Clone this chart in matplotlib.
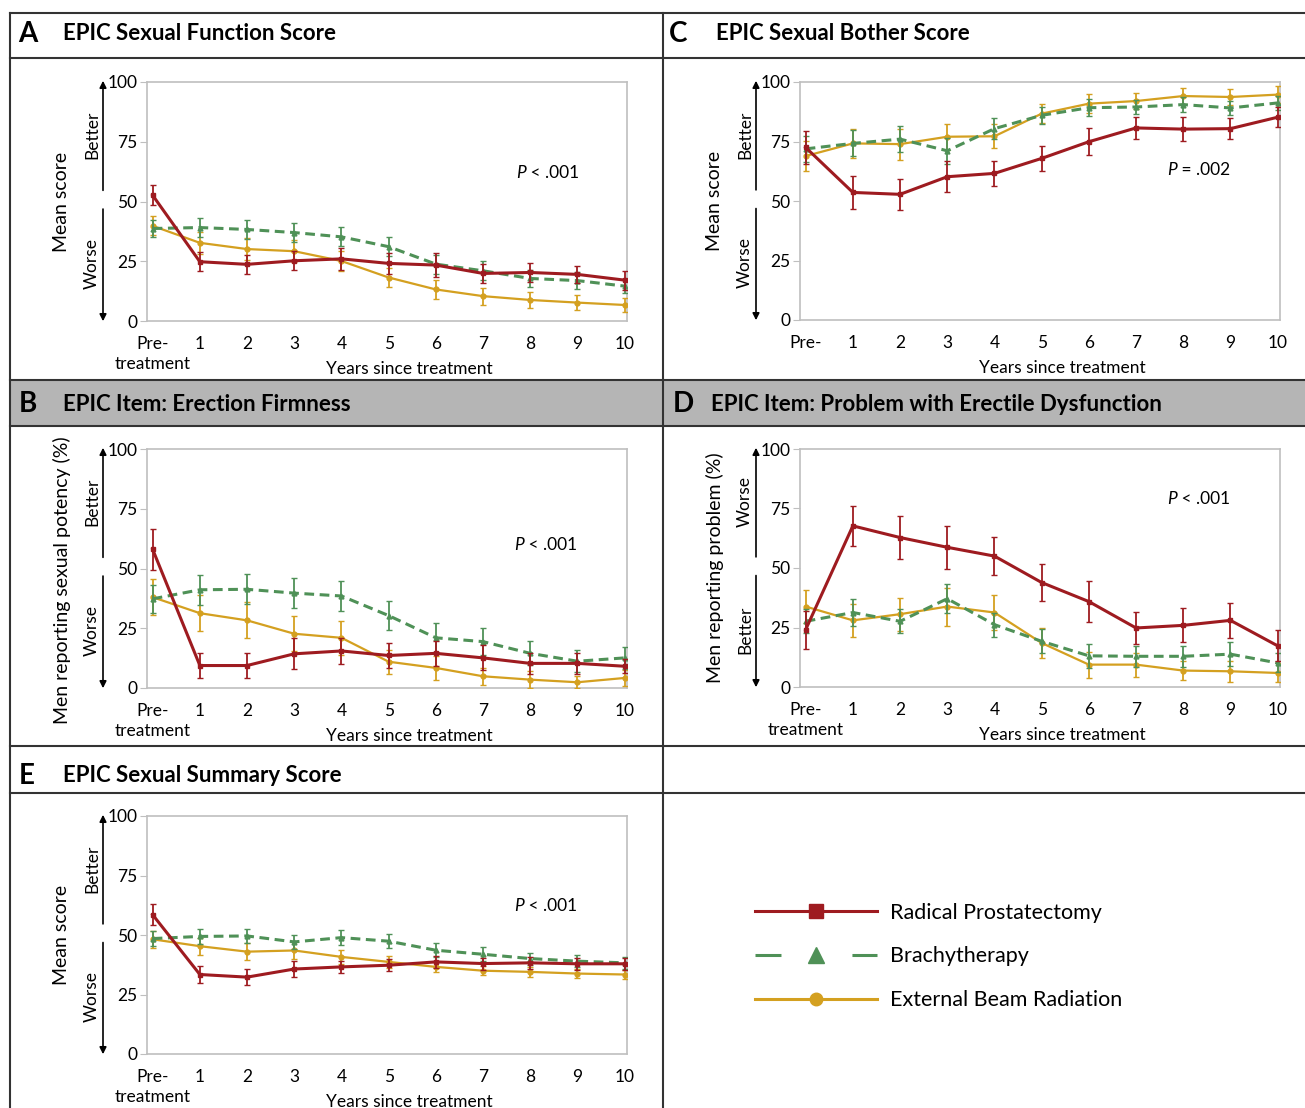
import numpy as np
import matplotlib
matplotlib.use('Agg')
import matplotlib.pyplot as plt
from matplotlib.lines import Line2D
from matplotlib.patches import Rectangle, FancyArrowPatch

plt.rcParams['font.family'] = ['Lato', 'DejaVu Sans']
plt.rcParams['lines.scale_dashes'] = False

W, H = 1305, 1108
RED = '#9E1B20'
GREEN = '#4F9157'
GOLD = '#D4A020'

years = np.arange(11)
xlabels = ['Pre-', '1', '2', '3', '4', '5', '6', '7', '8', '9', '10']
series = ['Radical Prostatectomy', 'Brachytherapy', 'External Beam Radiation']

# A: EPIC sexual function score
a_rp = [52.6, 24.8, 23.7, 25.2, 26.0, 24.1, 23.4, 19.9, 20.3, 19.5, 17.1]
a_rp_err = [4.2, 4.0, 4.0, 4.0, 4.5, 4.5, 5.0, 4.0, 4.0, 3.5, 4.0]
a_br = [38.7, 39.1, 38.3, 37.0, 35.2, 31.1, 23.8, 21.0, 17.8, 16.9, 14.6]
a_br_err = [3.5, 4.0, 4.0, 4.0, 4.0, 4.0, 4.0, 4.0, 3.5, 3.5, 3.0]
a_eb = [39.8, 32.7, 30.1, 29.2, 25.1, 18.2, 13.2, 10.4, 8.8, 7.7, 6.7]
a_eb_err = [4.0, 4.5, 4.5, 4.5, 4.0, 4.0, 4.0, 3.5, 3.5, 3.0, 3.0]

# C: EPIC sexual bother score
c_rp = [72.5, 53.6, 52.8, 60.2, 61.6, 67.9, 74.9, 80.7, 80.2, 80.4, 85.2]
c_rp_err = [7.0, 6.8, 6.6, 6.4, 5.2, 5.4, 5.6, 4.5, 4.9, 4.5, 4.3]
c_br = [71.9, 74.2, 76.0, 71.1, 80.4, 86.0, 89.2, 89.5, 90.5, 89.1, 91.2]
c_br_err = [5.5, 5.5, 5.5, 5.5, 4.5, 3.5, 3.5, 3.0, 3.0, 3.0, 3.0]
c_eb = [68.9, 74.2, 73.9, 77.0, 77.2, 86.7, 90.9, 92.0, 94.1, 93.7, 94.7]
c_eb_err = [6.5, 6.0, 6.5, 5.5, 5.0, 4.0, 4.0, 3.5, 3.5, 3.5, 3.5]

# B: erection firmness (% potent)
b_rp = [58.0, 9.4, 9.4, 14.3, 15.5, 13.6, 14.5, 12.6, 10.3, 10.3, 9.1]
b_rp_err = [8.7, 5.2, 5.2, 6.5, 5.4, 5.4, 5.2, 5.2, 4.5, 4.5, 3.0]
b_br = [37.3, 41.1, 41.3, 39.7, 38.5, 30.3, 21.0, 19.4, 14.5, 11.2, 12.6]
b_br_err = [6.0, 6.3, 6.3, 6.3, 6.3, 6.0, 6.0, 5.5, 5.0, 4.5, 4.5]
b_eb = [38.0, 31.3, 28.3, 22.7, 21.0, 11.0, 8.4, 4.9, 3.5, 2.4, 4.2]
b_eb_err = [7.5, 7.5, 7.5, 7.3, 7.0, 5.0, 5.0, 3.5, 3.5, 2.5, 3.5]

# D: problem with erectile dysfunction (%)
d_rp = [24.1, 67.7, 62.8, 58.7, 55.0, 43.9, 35.9, 24.8, 25.9, 28.0, 17.3]
d_rp_err = [8.0, 8.5, 9.0, 9.0, 8.0, 7.7, 8.6, 6.7, 7.2, 7.4, 6.5]
d_br = [27.6, 31.3, 27.6, 37.1, 26.2, 19.2, 13.1, 12.9, 12.9, 13.8, 10.1]
d_br_err = [5.0, 5.5, 5.0, 6.0, 5.0, 5.0, 5.0, 4.5, 4.5, 5.0, 4.0]
d_eb = [33.8, 28.0, 30.6, 33.8, 31.3, 18.5, 9.4, 9.4, 6.9, 6.6, 5.9]
d_eb_err = [7.0, 7.0, 7.0, 8.0, 7.5, 6.5, 5.5, 5.0, 4.0, 4.5, 4.0]

# E: EPIC sexual summary score
e_rp = [58.5, 33.4, 32.3, 35.7, 36.6, 37.3, 38.7, 38.0, 38.3, 37.9, 37.9]
e_rp_err = [4.5, 3.5, 3.5, 3.5, 2.5, 2.5, 2.5, 2.5, 2.5, 2.5, 2.5]
e_br = [48.5, 49.4, 49.6, 47.1, 48.9, 47.4, 43.6, 41.9, 40.1, 39.0, 38.3]
e_br_err = [3.0, 3.0, 3.0, 3.0, 3.0, 3.0, 3.0, 3.0, 2.5, 2.5, 2.5]
e_eb = [48.2, 45.3, 43.0, 43.5, 40.8, 38.7, 36.6, 35.0, 34.5, 33.8, 33.4]
e_eb_err = [3.5, 3.5, 3.5, 3.5, 3.0, 2.5, 2.0, 2.0, 2.0, 2.0, 2.0]


def fx(x):
    return x / W


def fy(y):
    return 1 - y / H


fig = plt.figure(figsize=(W / 100, H / 100), dpi=100)

# frame lines and gray header band
fig.add_artist(Rectangle((fx(10), fy(426)), fx(1295), 46 / H, transform=fig.transFigure,
                         facecolor='#B5B5B5', edgecolor='none', zorder=0))
for yy in [13, 58, 380, 426, 746, 793]:
    fig.add_artist(Line2D([fx(10), 1], [fy(yy), fy(yy)], color='#333333', lw=1.5))
for xx in [10, 663]:
    fig.add_artist(Line2D([fx(xx), fx(xx)], [fy(13), 0], color='#333333', lw=1.5))

headers = [('A', 'EPIC Sexual Function Score', 28, 63, 34),
           ('C', 'EPIC Sexual Bother Score', 678, 716, 34),
           ('B', 'EPIC Item: Erection Firmness', 28, 63, 404),
           ('D', 'EPIC Item: Problem with Erectile Dysfunction', 683, 711, 404),
           ('E', 'EPIC Sexual Summary Score', 27, 63, 776)]
for let, title, lx, tx, ty in headers:
    fig.text(fx(lx), fy(ty), let, fontsize=20, fontweight='bold', ha='center', va='center')
    fig.text(fx(tx), fy(ty), title, fontsize=16, fontweight='bold', ha='left', va='center')


def panel(left, top, bottom, rp, rp_e, br, br_e, eb, eb_e, ylab, top_word, bot_word,
          ptext, ppos, treatment=True, ylab_pos=0.5):
    ax = fig.add_axes([fx(left), fy(bottom), 480 / W, (bottom - top) / H])
    ax.errorbar(years, eb, yerr=eb_e, color=GOLD, lw=1.6, marker='o', ms=3.5,
                elinewidth=1.3, capsize=2, ecolor=GOLD, zorder=3)
    ax.errorbar(years, br, yerr=br_e, color=GREEN, lw=2.2, marker='^', ms=3.5,
                elinewidth=1.3, capsize=2, ecolor=GREEN, dashes=(7, 4), zorder=4)
    ax.errorbar(years, rp, yerr=rp_e, color=RED, lw=2.2, marker='s', ms=3.5,
                elinewidth=1.3, capsize=2, ecolor=RED, zorder=5)
    ax.set_xlim(-0.12, 10.05)
    ax.set_ylim(0, 100)
    ax.set_yticks([0, 25, 50, 75, 100])
    ax.set_xticks(years)
    ax.set_xticklabels(xlabels)
    ax.tick_params(axis='x', length=0, pad=11, labelsize=12.5)
    ax.tick_params(axis='y', length=5, color='#BFBFBF', pad=2, labelsize=12.5)
    for s in ax.spines.values():
        s.set_color('#BFBFBF')
        s.set_linewidth(1.2)
    ax.set_xlabel('Years since treatment', fontsize=12.5, labelpad=6, x=0.546)
    if treatment:
        ax.text(0, -0.182, 'treatment', transform=ax.get_xaxis_transform(),
                ha='center', va='center', fontsize=12.5)
    ax.text(ppos[0], ppos[1], ' < .001' if ptext == '<' else ' = .002',
            transform=ax.transAxes, fontsize=12.5, ha='left', va='center')
    ax.text(ppos[0], ppos[1], 'P', transform=ax.transAxes, fontsize=12.5,
            style='italic', ha='right', va='center')
    # axis direction arrows
    ax_x = left - 44
    h = bottom - top
    fig.add_artist(FancyArrowPatch(
        (fx(ax_x), fy(top + 0.465 * h)), (fx(ax_x), fy(top - 4)),
        transform=fig.transFigure, arrowstyle='-|>', mutation_scale=10, color='black', lw=1.2))
    fig.add_artist(FancyArrowPatch(
        (fx(ax_x), fy(top + 0.52 * h)), (fx(ax_x), fy(bottom + 3)),
        transform=fig.transFigure, arrowstyle='-|>', mutation_scale=10, color='black', lw=1.2))
    fig.text(fx(ax_x - 11), fy(top + 0.22 * h), top_word, rotation=90, fontsize=12.5,
             ha='center', va='center')
    fig.text(fx(ax_x - 11), fy(top + 0.76 * h), bot_word, rotation=90, fontsize=12.5,
             ha='center', va='center')
    fig.text(fx(ax_x - 41), fy(top + ylab_pos * h), ylab, rotation=90, fontsize=14,
             ha='center', va='center')
    return ax


panel(147, 82, 321, a_rp, a_rp_err, a_br, a_br_err, a_eb, a_eb_err,
      'Mean score', 'Better', 'Worse', '<', (0.79, 0.62))
panel(800, 82, 320, c_rp, c_rp_err, c_br, c_br_err, c_eb, c_eb_err,
      'Mean score', 'Better', 'Worse', '=', (0.785, 0.63), treatment=False)
panel(147, 449, 688, b_rp, b_rp_err, b_br, b_br_err, b_eb, b_eb_err,
      'Men reporting sexual potency (%)', 'Better', 'Worse', '<', (0.785, 0.60),
      ylab_pos=0.55)
panel(800, 449, 687, d_rp, d_rp_err, d_br, d_br_err, d_eb, d_eb_err,
      'Men reporting problem (%)', 'Worse', 'Better', '<', (0.785, 0.79))
panel(147, 816, 1054, e_rp, e_rp_err, e_br, e_br_err, e_eb, e_eb_err,
      'Mean score', 'Better', 'Worse', '<', (0.785, 0.62))

handles = [Line2D([], [], color=RED, lw=2.2, marker='s', ms=10),
           Line2D([], [], color=GREEN, lw=2.2, marker='^', ms=12, dashes=(18.7, 51.1)),
           Line2D([], [], color=GOLD, lw=2.2, marker='o', ms=9)]
fig.legend(handles, series, loc='upper left', bbox_to_anchor=(fx(744), fy(892)),
           frameon=False, fontsize=15.5, handlelength=5.7, handletextpad=0.6,
           labelspacing=1.1, borderpad=0, numpoints=1)

fig.savefig('out.png', dpi=100)
